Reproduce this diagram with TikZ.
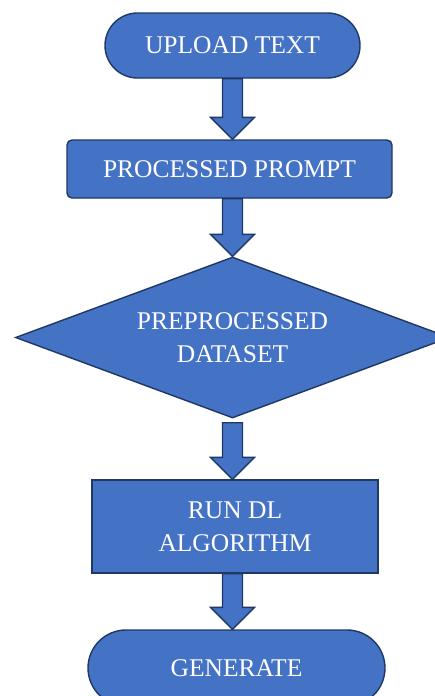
\documentclass[tikz,border=0pt]{standalone}
\usepackage{fontspec}
\setmainfont{Liberation Serif}
\usetikzlibrary{shapes.geometric,shapes.misc,calc}
\definecolor{boxfill}{HTML}{4472C4}
\definecolor{boxline}{HTML}{1F3864}
\tikzset{
  flow/.style={fill=boxfill, draw=boxline, line width=1.4pt, text=white, align=center,
    font=\fontsize{25.5}{33}\selectfont, inner sep=0pt},
  pill/.style={flow, rounded rectangle},
  procbox/.style={flow, rectangle},
  decision/.style={flow, diamond, shape aspect=2.7},
  blockarrow/.style={fill=boxfill, draw=boxline, line width=1.4pt, line join=miter},
}
\newcommand{\blockarr}[3]{%
  \path[blockarrow] let \p1=(ax |- #1.south), \p2=(ax |- #2.north) in
    ({\x1-10pt},{\y1-#3}) -- ({\x1+10pt},{\y1-#3}) -- ({\x1+10pt},{\y2+22pt}) --
    ({\x1+22pt},{\y2+22pt}) -- ({\x1},{\y2}) -- ({\x1-22pt},{\y2+22pt}) --
    ({\x1-10pt},{\y2+22pt}) -- cycle;}
\begin{document}
\begin{tikzpicture}[x=1pt,y=-1pt]
\useasboundingbox (0,0) rectangle (435,696);
\fill[white] (0,0) rectangle (435,696);
\clip (0,0) rectangle (435,696);
\coordinate (ax) at (232.5,0);
\node[pill, minimum width=255pt, minimum height=65pt] (up) at (232.5,45.5) {UPLOAD TEXT};
\node[procbox, rounded corners=5pt, minimum width=325pt, minimum height=58pt] (pp) at (229.5,169) {PROCESSED PROMPT};
\node[decision, minimum width=434pt, minimum height=161pt] (ds) at (232.5,337.5) {PREPROCESSED\\DATASET};
\node[procbox, minimum width=286pt, minimum height=93pt] (run) at (235,526.5) {RUN DL\\ALGORITHM};
\node[pill, minimum width=297pt, minimum height=76pt] (gen) at (236.5,668) {GENERATE};
\blockarr{up}{pp}{0pt}
\blockarr{pp}{ds}{0pt}
\blockarr{ds}{run}{4pt}
\blockarr{run}{gen}{0pt}
\end{tikzpicture}
\end{document}
